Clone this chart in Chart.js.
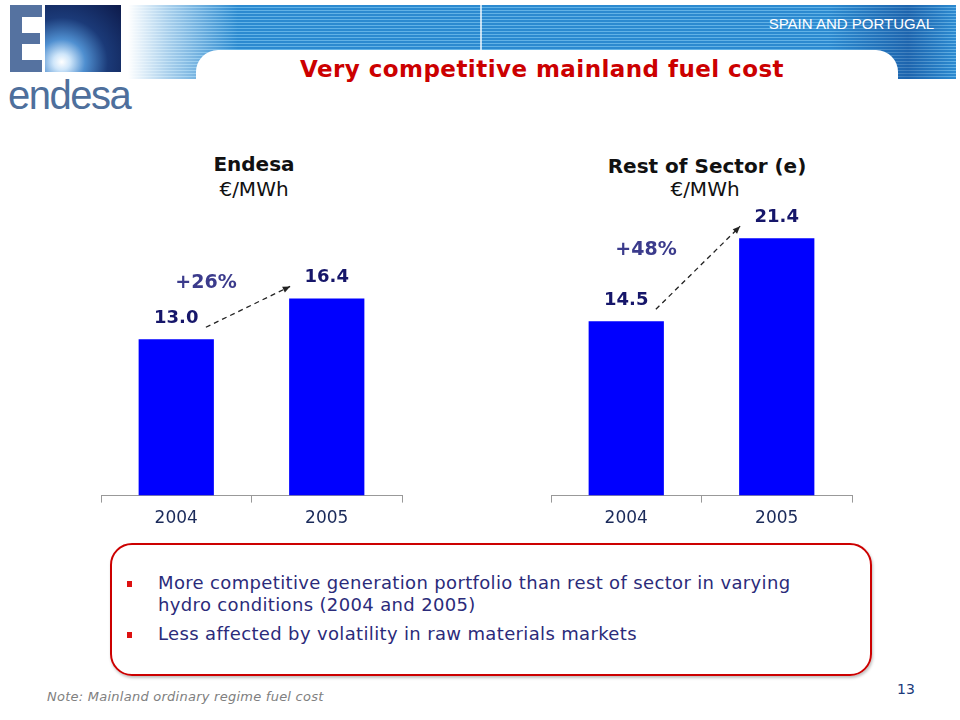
<!DOCTYPE html>
<html>
<head>
<meta charset="utf-8">
<script src="https://cdn.jsdelivr.net/npm/chart.js@4.4.1/dist/chart.umd.min.js"></script>
<style>
  body { margin: 0; background: #fff; }
  #slide { position: relative; width: 960px; height: 720px; overflow: hidden; background: #fff; font-family: "DejaVu Sans", Verdana, sans-serif; }
  .abs { position: absolute; }
  .ebar { position: absolute; background: #5572a0; }
  #square { left: 45px; top: 5px; width: 76px; height: 67px;
    background: radial-gradient(ellipse at 22% 85%, #ffffff 0%, #cfe6fa 10%, #4f8fd0 28%, #1b3a78 55%, #0d1a4a 100%); }
  #brand { left: 8px; top: 73px; font-family: "Liberation Sans", Arial, sans-serif; font-size: 40px; color: #4e6f9c; letter-spacing: -1.5px; }
  #banner { left: 128px; top: 5px; width: 828px; height: 74px;
    background: repeating-linear-gradient(180deg, #2c8ad0 0px, #2c8ad0 2px, #62b2e6 2px, #62b2e6 3px); }
  #bannerShade { left: 128px; top: 5px; width: 828px; height: 74px;
    background: linear-gradient(90deg, rgba(255,255,255,1) 0px, rgba(255,255,255,0.6) 40px, rgba(255,255,255,0) 110px, rgba(0,40,120,0) 700px, rgba(0,30,110,0.35) 780px, rgba(0,30,110,0) 828px); }
  #notch { left: 196px; top: 50px; width: 702px; height: 40px; background: #fff; border-top-left-radius: 22px; border-top-right-radius: 22px; }
  #sep { left: 480px; top: 5px; width: 2px; height: 45px; background: rgba(255,255,255,0.7); }
  #region { right: 26px; top: 15px; font-family: "Liberation Sans", Arial, sans-serif; font-size: 15px; color: #fff; }
  #title { left: 0; width: 1084px; top: 56px; text-align: center; font-weight: bold; font-size: 23px; letter-spacing: 0.45px; color: #cc0000; }
  .ctitle { position: absolute; text-align: center; font-size: 20px; color: #111; line-height: 25px; }
  canvas { position: absolute; }
  #box { left: 110px; top: 543px; width: 758px; height: 129px; border: 2px solid #cc0000; border-radius: 22px; box-shadow: 1px 2px 3px rgba(0,0,0,0.25); }
  .bul { position: absolute; left: 158px; font-size: 18px; letter-spacing: 0.35px; color: #2b2b7a; line-height: 22px; }
  .sq { position: absolute; left: 127px; width: 5px; height: 6px; background: #dd1111; }
  #note { left: 47px; top: 689px; font-size: 13px; letter-spacing: 0.25px; font-style: italic; color: #808080; }
  #page { left: 897px; top: 681px; font-size: 14px; color: #1a3a7a; }
</style>
</head>
<body>
<div id="slide">
  <div class="ebar" style="left:10px;top:5px;width:12px;height:67px"></div>
  <div class="ebar" style="left:10px;top:5px;width:32px;height:12px"></div>
  <div class="ebar" style="left:10px;top:33px;width:30px;height:11px"></div>
  <div class="ebar" style="left:10px;top:60px;width:32px;height:12px"></div>
  <div class="abs" id="square"></div>
  <div class="abs" id="brand">endesa</div>
  <div class="abs" id="banner"></div>
  <div class="abs" id="bannerShade"></div>
  <div class="abs" id="sep"></div>
  <div class="abs" id="notch"></div>
  <div class="abs" id="region">SPAIN AND PORTUGAL</div>
  <div class="abs" id="title">Very competitive mainland fuel cost</div>

  <div class="ctitle" style="left:154px;width:200px;top:152px"><b>Endesa</b><br>€/MWh</div>
  <div class="ctitle" style="left:557px;width:300px;top:154px"><b>Rest of Sector (e)</b><br><span style="position:relative;left:-2px;top:-2px">€/MWh</span></div>

  <canvas id="endesaChart" width="320" height="385" style="left:91px;top:150px"></canvas>
  <canvas id="sectorChart" width="320" height="385" style="left:541px;top:150px"></canvas>

  <div class="abs" id="box"></div>
  <div class="sq" style="top:581px"></div>
  <div class="bul" style="top:572px">More competitive generation portfolio than rest of sector in varying<br>hydro conditions (2004 and 2005)</div>
  <div class="sq" style="top:632px"></div>
  <div class="bul" style="top:623px">Less affected by volatility in raw materials markets</div>
  <div class="abs" id="note">Note: Mainland ordinary regime fuel cost</div>
  <div class="abs" id="page">13</div>
</div>
<script>
const years = ['2004', '2005'];
const endesaCost = [13.0, 16.4];
const sectorCost = [14.5, 21.4];
const endesaChange = '+26%';
const sectorChange = '+48%';

// value labels over the bars plus the dashed growth arrow
const barNotes = {
    id: 'barNotes',
    afterDatasetsDraw(chart, args, opts) {
        const ctx = chart.ctx;
        const bars = chart.getDatasetMeta(0).data;
        const values = chart.data.datasets[0].data;
        ctx.save();
        ctx.font = 'bold 18px "DejaVu Sans"';
        ctx.fillStyle = '#16166a';
        ctx.textAlign = 'center';
        ctx.textBaseline = 'bottom';
        bars.forEach((b, i) => {
            ctx.fillText(values[i].toFixed(1), b.x, b.y - 12);
        });

        const a = bars[0], c = bars[1];
        const w = a.width;
        const x0 = a.x + w / 2 - 8, y0 = a.y - 12;
        const x1 = c.x - w / 2 + 1, y1 = c.y - 12;
        ctx.strokeStyle = '#222';
        ctx.lineWidth = 1.3;
        ctx.setLineDash([5, 4]);
        ctx.beginPath();
        ctx.moveTo(x0, y0);
        ctx.lineTo(x1, y1);
        ctx.stroke();
        ctx.setLineDash([]);
        const ang = Math.atan2(y1 - y0, x1 - x0);
        ctx.fillStyle = '#222';
        ctx.beginPath();
        ctx.moveTo(x1, y1);
        ctx.lineTo(x1 - 8 * Math.cos(ang - 0.4), y1 - 8 * Math.sin(ang - 0.4));
        ctx.lineTo(x1 - 8 * Math.cos(ang + 0.4), y1 - 8 * Math.sin(ang + 0.4));
        ctx.closePath();
        ctx.fill();

        ctx.font = 'bold 19px "DejaVu Sans"';
        ctx.fillStyle = '#3b3b8c';
        ctx.textBaseline = 'middle';
        ctx.fillText(opts.change, (x0 + x1) / 2 + opts.dx, (y0 + y1) / 2 + opts.dy);
        ctx.restore();
    }
};

function makeChart(id, values, change, dx, dy) {
    return new Chart(document.getElementById(id), {
        type: 'bar',
        data: {
            labels: years,
            datasets: [{
                data: values,
                backgroundColor: '#0000ff',
                barPercentage: 0.5,
                categoryPercentage: 1
            }]
        },
        options: {
            responsive: false,
            animation: false,
            layout: { padding: { left: 10, right: 9, top: 45, bottom: 0 } },
            plugins: {
                legend: { display: false },
                tooltip: { enabled: false },
                barNotes: { change: change, dx: dx, dy: dy }
            },
            scales: {
                x: {
                    grid: { drawOnChartArea: false, drawTicks: true, tickLength: 7, color: '#999' },
                    border: { color: '#999' },
                    ticks: { color: '#1a2a5a', padding: 6, font: { family: '"DejaVu Sans"', size: 17 } }
                },
                y: { display: false, min: 0, max: 25 }
            }
        },
        plugins: [barNotes]
    });
}

makeChart('endesaChart', endesaCost, endesaChange, -42, -24);
makeChart('sectorChart', sectorCost, sectorChange, -52, -18);
</script>
</body>
</html>
